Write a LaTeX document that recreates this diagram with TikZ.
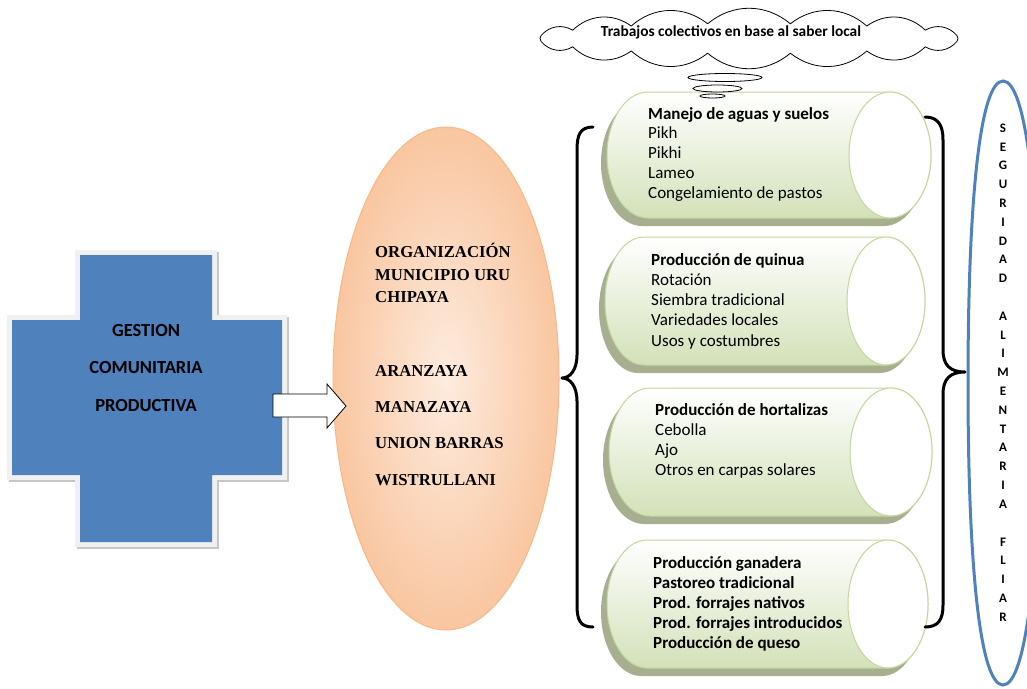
\documentclass[tikz,border=0pt]{standalone}
\usepackage{fontspec}
\setmainfont{Carlito}
\newfontfamily\serifbf{Liberation Serif}[BoldFont={Liberation Serif Bold}]
\usetikzlibrary{shapes.geometric}
\definecolor{crossblue}{HTML}{4F81BD}
\definecolor{cylgreen}{HTML}{D3E1B8}
\definecolor{cylborder}{HTML}{C3D69B}
\definecolor{cylshadow}{HTML}{A7AF90}
\definecolor{orgline}{HTML}{F6B888}
\definecolor{orgin}{HTML}{FDECDF}
\definecolor{orgout}{HTML}{F9C6A0}
\newcommand\mycylbody[5]{(#1+#4,#3-#5) -- (#2,#3-#5) arc[start angle=-90,end angle=90,x radius=#4,y radius=#5] -- (#1+#4,#3+#5) arc[start angle=90,end angle=270,x radius=#4,y radius=#5] -- cycle}
\newcommand\mycyl[5]{%
  \fill[cylshadow,shift={(-6,8)}] \mycylbody{#1}{#2}{#3}{#4}{#5};
  \draw[cylborder,line width=1,top color=white,bottom color=cylgreen] \mycylbody{#1}{#2}{#3}{#4}{#5};
  \draw[cylborder,line width=1,fill=white] (#2,#3) ellipse[x radius=#4,y radius=#5];
}
\tikzset{
  cyltxt/.style={anchor=base west,inner sep=0,font=\fontsize{17}{20}\selectfont},
  cylbold/.style={cyltxt,font=\fontsize{17}{20}\selectfont\bfseries},
  orgtxt/.style={anchor=base west,inner sep=0,font=\serifbf\bfseries\fontsize{16.7}{20}\selectfont},
  crosstxt/.style={anchor=base,inner sep=0,font=\fontsize{18.5}{22}\selectfont\bfseries},
  vtxt/.style={anchor=base,inner sep=0,font=\fontsize{13}{15}\selectfont\bfseries},
  bracestyle/.style={line width=3,line cap=round,line join=round},
  bubble/.style={line width=0.8,fill=white},
}
\begin{document}
\begin{tikzpicture}[x=1pt,y=-1pt]
\useasboundingbox (0,0) rectangle (1027,688);
% cross
\def\crosspath{(80,255) -- (212,255) -- (212,320) -- (282,320) -- (282,475) -- (212,475) -- (212,542) -- (80,542) -- (80,475) -- (12,475) -- (12,320) -- (80,320) -- cycle}
\draw[line width=10,black!22,line join=miter,shift={(2,2)}] \crosspath;
\draw[line width=10,black!6,line join=miter] \crosspath;
\fill[crossblue] \crosspath;
\node[crosstxt] (g1) at (146,336) {GESTION};
\node[crosstxt] (g2) at (146,373) {COMUNITARIA};
\node[crosstxt] (g3) at (146,411) {PRODUCTIVA};
% organisation ellipse
\node[ellipse,draw=orgline,line width=1,inner color=orgin,outer color=orgout,minimum width=226,minimum height=503,inner sep=0] (org) at (446,378.5) {};
\node[orgtxt] (o1) at (375,257) {ORGANIZACIÓN};
\node[orgtxt] (o2) at (375,280) {MUNICIPIO URU};
\node[orgtxt] (o3) at (375,302) {CHIPAYA};
\node[orgtxt] (o4) at (375,376) {ARANZAYA};
\node[orgtxt] (o5) at (375,412) {MANAZAYA};
\node[orgtxt] (o6) at (375,448) {UNION BARRAS};
\node[orgtxt] (o7) at (375,485) {WISTRULLANI};
% block arrow
\draw[line width=0.8,fill=white,line join=miter] (273,394) -- (327,394) -- (327,384) -- (346,406) -- (327,428) -- (327,417) -- (273,417) -- cycle;
% cylinders
\mycyl{607}{890}{155}{41}{63}
\mycyl{605}{886}{301}{39}{64}
\mycyl{609}{891}{452}{41}{64}
\mycyl{607}{888}{604}{40}{64}
\node[cylbold] (a1) at (648,119) {Manejo de aguas y suelos};
\node[cyltxt] (a2) at (648,138) {Pikh};
\node[cyltxt] (a3) at (648,158) {Pikhi};
\node[cyltxt] (a4) at (648,178) {Lameo};
\node[cyltxt] (a5) at (648,198) {Congelamiento de pastos};
\node[cylbold] (b1) at (651,265) {Producción de quinua};
\node[cyltxt] (b2) at (651,285) {Rotación};
\node[cyltxt] (b3) at (651,305) {Siembra tradicional};
\node[cyltxt] (b4) at (651,325) {Variedades locales};
\node[cyltxt] (b5) at (651,346) {Usos y costumbres};
\node[cylbold] (c1) at (655,415) {Producción de hortalizas};
\node[cyltxt] (c2) at (655,435) {Cebolla};
\node[cyltxt] (c3) at (655,455) {Ajo};
\node[cyltxt] (c4) at (655,475) {Otros en carpas solares};
\node[cylbold] (d1) at (653,568) {Producción ganadera};
\node[cylbold] (d2) at (653,588) {Pastoreo tradicional};
\node[cylbold] (d3) at (653,608) {Prod. forrajes nativos};
\node[cylbold] (d4) at (653,628) {Prod. forrajes introducidos};
\node[cylbold] (d5) at (653,648) {Producción de queso};
% cloud
\draw[line width=0.8,fill=white,line join=round] ({749+212*cos(11.25)},{38.5+15*sin(11.25)})
  foreach \a in {33.75,56.25,...,371.25} { to[bend left=40] ({749+212*cos(\a)},{38.5+15*sin(\a)}) } -- cycle;
\node[anchor=base,inner sep=0,font=\fontsize{15.4}{18}\selectfont\bfseries] (cloudtxt) at (731,36) {Trabajos colectivos en base al saber local};
\draw[bubble] (725,77.5) ellipse[x radius=37,y radius=4];
\draw[bubble] (717.5,88.5) ellipse[x radius=24.5,y radius=3.5];
\draw[bubble] (712.5,96) ellipse[x radius=12.5,y radius=2];
% braces
\draw[bracestyle] (593,127) .. controls (580,127) and (577,135) .. (577,150) -- (577,355) .. controls (577,370) and (570,378) .. (562,378) .. controls (570,378) and (577,386) .. (577,401) -- (577,605) .. controls (577,620) and (580,627) .. (593,627);
\draw[bracestyle] (925,117) .. controls (938,117) and (943,125) .. (943,140) -- (943,350) .. controls (943,365) and (950,372) .. (965,372) .. controls (950,372) and (943,379) .. (943,394) -- (943,605) .. controls (943,620) and (938,627) .. (925,627);
% right rounded shape
\draw[crossblue,line width=3] (1003,81) .. controls (980,81) and (968,200) .. (968,383) .. controls (968,566) and (980,685) .. (1003,685) .. controls (1026,685) and (1040,566) .. (1040,383) .. controls (1040,200) and (1026,81) .. (1003,81) -- cycle;
\foreach \t [count=\i] in {S,E,G,U,R,I,D,A,D,{},A,L,I,M,E,N,T,A,R,I,A,{},F,L,I,A,R}
  \node[vtxt] (v\i) at (1003,{128+4.2+(\i-1)*18.81}) {\t};
\end{tikzpicture}
\end{document}
